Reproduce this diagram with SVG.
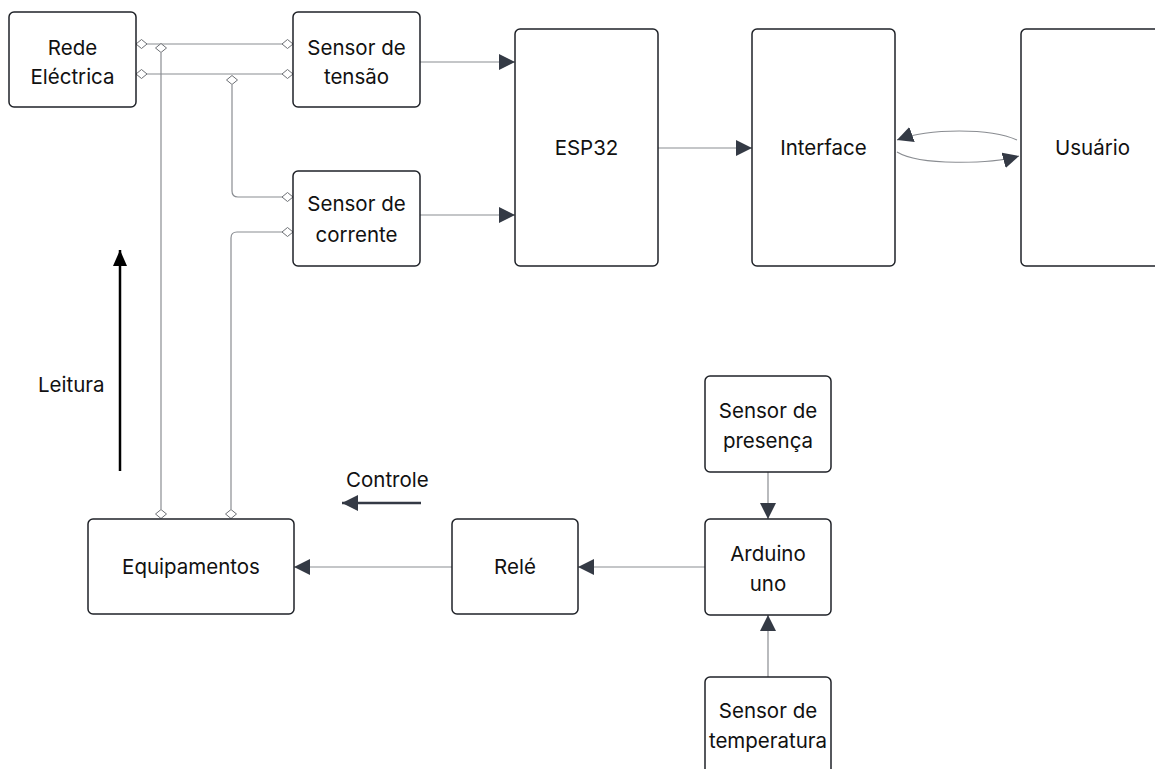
<svg xmlns="http://www.w3.org/2000/svg" width="1155" height="769" viewBox="0 0 1155 769">
<style>
.n rect{fill:#fff;stroke:#1f2228;stroke-width:1.5}
.n text{font-family:Inter,"Noto Sans",sans-serif;font-size:20.5px;fill:#111;text-anchor:middle}
.c{fill:none;stroke:#8a8d92;stroke-width:1.2}
.d{fill:#fff;stroke:#6d7075;stroke-width:1}
.lbl{font-family:Inter,"Noto Sans",sans-serif;font-size:20.5px;fill:#111}
</style>
<defs>
<marker id="ah2" markerWidth="16" markerHeight="16" refX="16" refY="8" orient="auto" markerUnits="userSpaceOnUse" viewBox="0 0 16 16">
<path d="M0,0 L16,8 L0,16 Z" fill="#343a45"/>
</marker>
<marker id="ahk" markerWidth="16" markerHeight="14" refX="16" refY="7" orient="auto" markerUnits="userSpaceOnUse" viewBox="0 0 16 14">
<path d="M0,0 L16,7 L0,14 Z" fill="#000"/>
</marker>
</defs>

<g id="connectors">
<path class="c" d="M146,44 H283"/>
<path class="c" d="M146,74 H283"/>
<path class="c" d="M161,53 V509"/>
<path class="c" d="M232,85 V191 Q232,197 238,197 H283"/>
<path class="c" d="M283,232 H237 Q231,232 231,238 V509"/>
<path class="c" d="M420,62 H515" marker-end="url(#ah2)"/>
<path class="c" d="M420,215 H515" marker-end="url(#ah2)"/>
<path class="c" d="M658,148 H752" marker-end="url(#ah2)"/>
<path class="c" d="M1017,140 C990,128 930,128 897,140" marker-end="url(#ah2)"/>
<path class="c" d="M897,152 C920,166 990,164 1019,156" marker-end="url(#ah2)"/>
<path class="c" d="M452,567 H294" marker-end="url(#ah2)"/>
<path class="c" d="M705,567 H578" marker-end="url(#ah2)"/>
<path class="c" d="M768,472 V519" marker-end="url(#ah2)"/>
<path class="c" d="M768,677 V615" marker-end="url(#ah2)"/>
<path d="M120,471 V250" stroke="#000" stroke-width="2.5" fill="none" marker-end="url(#ahk)"/>
<path d="M421,503 H342" stroke="#343a45" stroke-width="2.5" fill="none" marker-end="url(#ah2)"/>
<polygon class="d" points="136,44 141.5,39.5 147,44 141.5,48.5"/>
<polygon class="d" points="282,44 287.5,39.5 293,44 287.5,48.5"/>
<polygon class="d" points="136,74 141.5,69.5 147,74 141.5,78.5"/>
<polygon class="d" points="282,74 287.5,69.5 293,74 287.5,78.5"/>
<polygon class="d" points="155.5,48 161,43.5 166.5,48 161,52.5"/>
<polygon class="d" points="226.5,80 232,75.5 237.5,80 232,84.5"/>
<polygon class="d" points="282,197 287.5,192.5 293,197 287.5,201.5"/>
<polygon class="d" points="282,232 287.5,227.5 293,232 287.5,236.5"/>
<polygon class="d" points="155.5,514 161,509.5 166.5,514 161,518.5"/>
<polygon class="d" points="225.5,514 231,509.5 236.5,514 231,518.5"/>
</g>

<g id="rede" class="n"><rect x="9" y="12" width="127" height="95" rx="5"/><text x="72.5" y="55">Rede</text><text x="72.5" y="84">Eléctrica</text></g>
<g id="tensao" class="n"><rect x="293" y="12" width="127" height="95" rx="5"/><text x="356.5" y="55">Sensor de</text><text x="356.5" y="84">tensão</text></g>
<g id="corrente" class="n"><rect x="293" y="171" width="127" height="95" rx="5"/><text x="356.5" y="211">Sensor de</text><text x="356.5" y="242">corrente</text></g>
<g id="esp32" class="n"><rect x="515" y="29" width="143" height="237" rx="5"/><text x="586.5" y="155">ESP32</text></g>
<g id="interface" class="n"><rect x="752" y="29" width="143" height="237" rx="5"/><text x="823.5" y="155">Interface</text></g>
<g id="usuario" class="n"><rect x="1021" y="29" width="143" height="237" rx="5"/><text x="1092.5" y="155">Usuário</text></g>
<g id="presenca" class="n"><rect x="705" y="376" width="126" height="96" rx="5"/><text x="768" y="418">Sensor de</text><text x="768" y="448">presença</text></g>
<g id="arduino" class="n"><rect x="705" y="519" width="126" height="96" rx="5"/><text x="768" y="561">Arduino</text><text x="768" y="591">uno</text></g>
<g id="temperatura" class="n"><rect x="705" y="677" width="126" height="100" rx="5"/><text x="768" y="718">Sensor de</text><text x="768" y="748">temperatura</text></g>
<g id="rele" class="n"><rect x="452" y="519" width="126" height="95" rx="5"/><text x="515" y="574">Relé</text></g>
<g id="equipamentos" class="n"><rect x="88" y="519" width="206" height="95" rx="5"/><text x="191" y="574">Equipamentos</text></g>

<text class="lbl" x="38" y="392">Leitura</text>
<text class="lbl" x="346" y="487">Controle</text>
</svg>
